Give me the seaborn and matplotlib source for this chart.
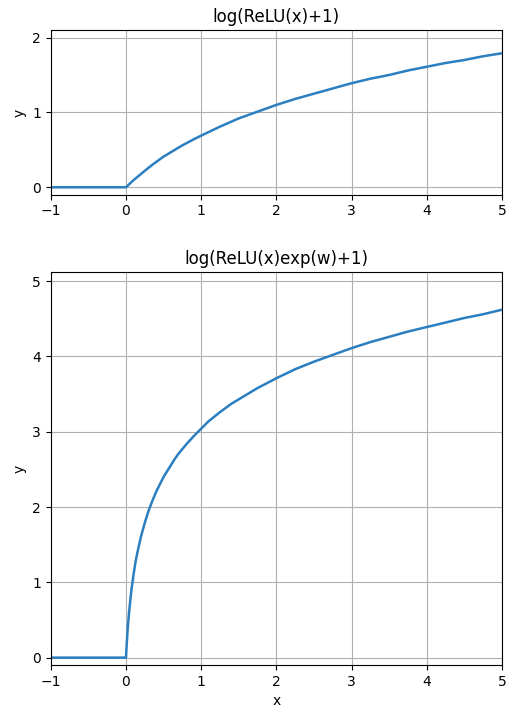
import numpy as np
import pandas as pd
import matplotlib
matplotlib.use("Agg")
import matplotlib.pyplot as plt
import seaborn as sns

# values
x_top = [-1.0, -0.5, 0.0, 0.1, 0.25, 0.35, 0.5, 0.6, 0.75, 0.9, 1.0, 1.25, 1.5, 1.75, 2.0, 2.25,
         2.5, 2.75, 3.0, 3.25, 3.5, 3.75, 4.0, 4.25, 4.5, 4.75, 5.0]
y_top = [0.0, 0.0, 0.0, 0.095, 0.22, 0.30, 0.41, 0.47, 0.56, 0.64, 0.69, 0.81, 0.92, 1.01, 1.10, 1.18,
         1.25, 1.32, 1.39, 1.45, 1.50, 1.56, 1.61, 1.66, 1.70, 1.75, 1.79]

x_bot = [-1.0, -0.5, 0.0, 0.0025, 0.005, 0.0075, 0.01, 0.015, 0.02, 0.025, 0.03, 0.035, 0.04, 0.05,
         0.06, 0.075, 0.085, 0.1, 0.125, 0.15, 0.175, 0.2, 0.25, 0.3, 0.35, 0.4, 0.45, 0.5, 0.55,
         0.6, 0.65, 0.7, 0.75, 0.8, 0.9, 1.0, 1.1, 1.25, 1.4, 1.5, 1.75, 2.0, 2.25, 2.5, 2.75,
         3.0, 3.25, 3.5, 3.75, 4.0, 4.25, 4.5, 4.75, 5.0]
y_bot = [0.0, 0.0, 0.0, 0.05, 0.10, 0.14, 0.18, 0.26, 0.34, 0.41, 0.47, 0.53, 0.59, 0.69,
         0.79, 0.92, 0.99, 1.10, 1.26, 1.39, 1.50, 1.61, 1.79, 1.95, 2.08, 2.20, 2.30, 2.40, 2.48,
         2.56, 2.64, 2.71, 2.77, 2.83, 2.94, 3.04, 3.14, 3.26, 3.37, 3.43, 3.58, 3.71, 3.83, 3.93, 4.02,
         4.11, 4.19, 4.26, 4.33, 4.39, 4.45, 4.51, 4.56, 4.62]

titles = ["log(ReLU(x)+1)", "log(ReLU(x)exp(w)+1)"]

fig = plt.figure(figsize=(5.08, 7.16), dpi=100)
ax1 = fig.add_axes([0.100, 0.728, 0.888, 0.230])
ax2 = fig.add_axes([0.100, 0.071, 0.888, 0.549])

df_top = pd.DataFrame({"x": x_top, "y": y_top})
df_bot = pd.DataFrame({"x": x_bot, "y": y_bot})

sns.lineplot(data=df_top, x="x", y="y", ax=ax1, color="#2b7fc0", linewidth=1.8)
sns.lineplot(data=df_bot, x="x", y="y", ax=ax2, color="#2b7fc0", linewidth=1.8)

ax1.set_xlim(-1, 5)
ax1.set_ylim(-0.1, 2.1)
ax1.set_yticks([0, 1, 2])
ax1.set_xlabel("")
ax1.set_title(titles[0])

ax2.set_xlim(-1, 5)
ax2.set_ylim(-0.1, 5.12)
ax2.set_yticks([0, 1, 2, 3, 4, 5])
ax2.set_xlabel("x")
ax2.set_title(titles[1])

for ax in (ax1, ax2):
    ax.set_ylabel("y")
    ax.grid(True, color="#b0b0b0", linewidth=0.8)

fig.savefig("out.png", dpi=100)
